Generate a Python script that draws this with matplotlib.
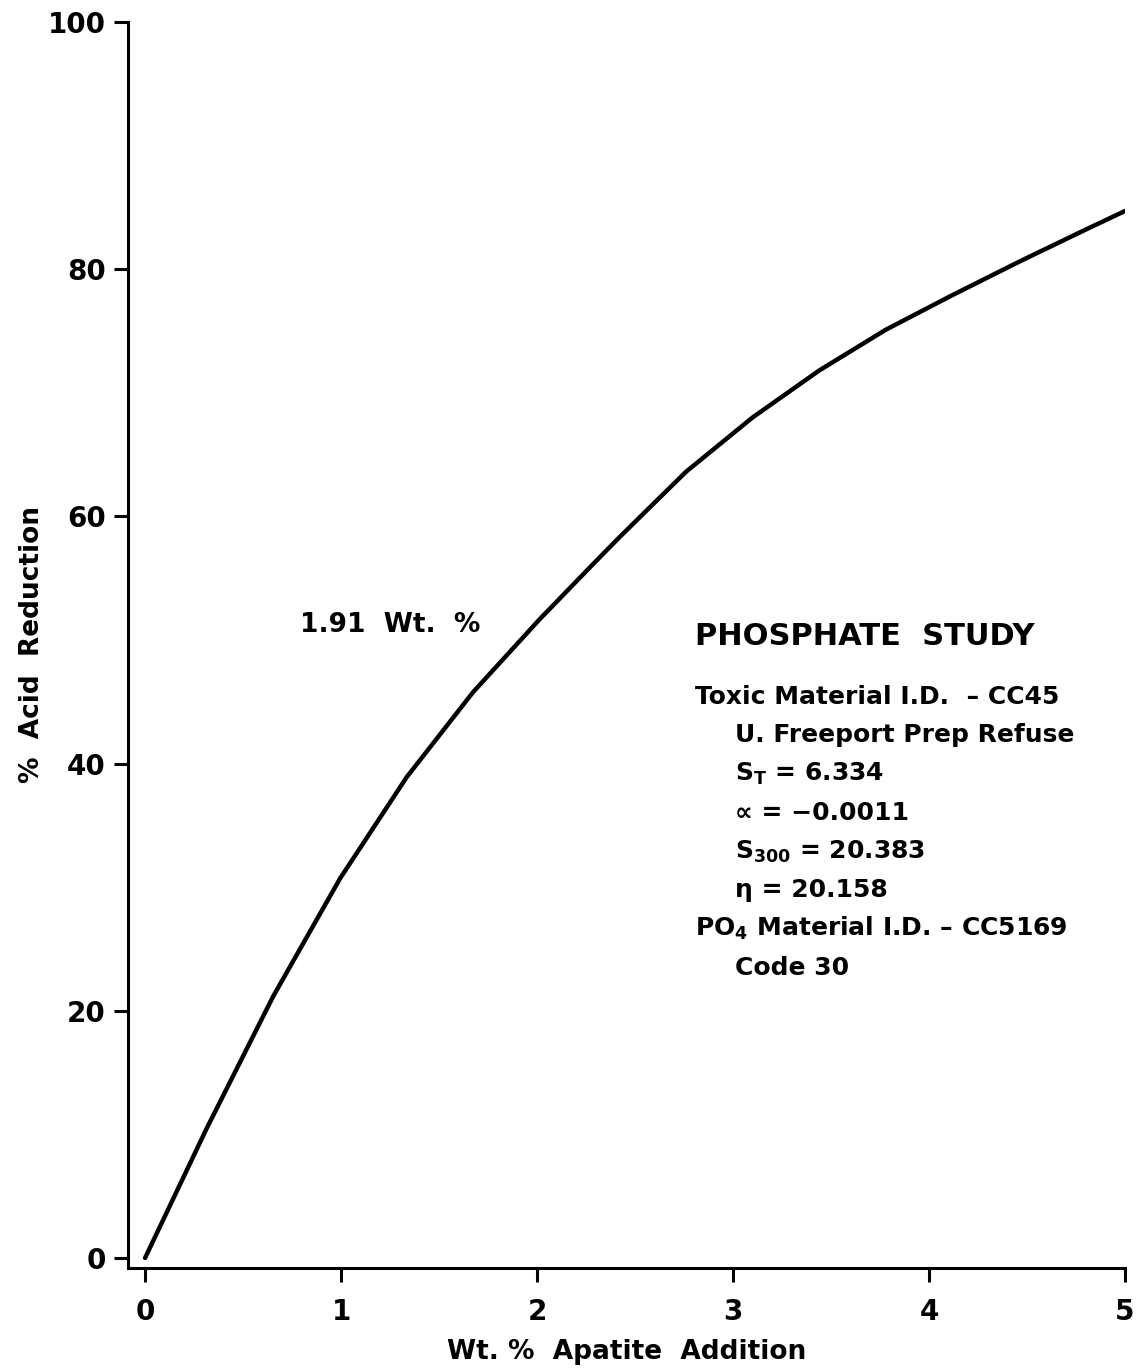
import numpy as np
import matplotlib
matplotlib.use('Agg')
import matplotlib.pyplot as plt

plt.rcParams['font.family'] = ['DejaVu Sans']
plt.rcParams['font.weight'] = 'bold'
plt.rcParams['axes.labelweight'] = 'bold'
plt.rcParams['mathtext.fontset'] = 'custom'
plt.rcParams['mathtext.rm'] = 'DejaVu Sans:bold'
plt.rcParams['mathtext.it'] = 'DejaVu Sans:bold'
plt.rcParams['mathtext.bf'] = 'DejaVu Sans:bold'

# curve
apatite = [0.0, 0.315, 0.655, 0.995, 1.335, 1.675, 2.015, 2.29, 2.42,
           2.76, 3.10, 3.44, 3.78, 4.12, 4.46, 4.80, 5.0]
acid_red = [0.0, 10.5, 21.2, 30.7, 38.9, 45.8, 51.7, 56.2, 58.3,
            63.6, 68.0, 71.8, 75.1, 77.9, 80.6, 83.2, 84.7]

x_ticks = [0, 1, 2, 3, 4, 5]
y_ticks = [0, 20, 40, 60, 80, 100]

info_lines = [
    ('Toxic Material I.D.  \u2013 CC45', 0),
    ('U. Freeport Prep Refuse', 1),
    (r'S$_\mathregular{T}$ = 6.334', 1),
    ('\u221d = \u22120.0011', 1),
    (r'S$_\mathregular{300}$ = 20.383', 1),
    ('\u03b7 = 20.158', 1),
    (r'PO$_\mathregular{4}$ Material I.D. ' + '\u2013 CC5169', 0),
    ('Code 30', 1),
]

fig = plt.figure(figsize=(11.4, 13.7), dpi=100)
ax = fig.add_axes([0.1123, 0.0745, 0.8745, 0.9095])

ax.plot(apatite, acid_red, color='black', lw=3.2, solid_capstyle='round',
        solid_joinstyle='round')

ax.set_xlim(-0.087, 5)
ax.set_ylim(-0.81, 100)
ax.set_xticks(x_ticks)
ax.set_yticks(y_ticks)
ax.tick_params(axis='both', direction='out', length=10, width=2.2, labelsize=20)
ax.tick_params(axis='x', pad=12)
ax.tick_params(axis='y', pad=6)
for s in ['top', 'right']:
    ax.spines[s].set_visible(False)
for s in ['left', 'bottom']:
    ax.spines[s].set_linewidth(2.2)

ax.set_xlabel('Wt. %  Apatite  Addition', fontsize=19, labelpad=9)
ax.set_ylabel('%  Acid  Reduction', fontsize=19, labelpad=2)

ax.text(0.79, 51.2, '1.91  Wt.  %', fontsize=19, va='center', ha='left')
ax.text(2.806, 50.3, 'PHOSPHATE  STUDY', fontsize=22, va='center', ha='left')
y0 = 45.4
for i, (txt, indent) in enumerate(info_lines):
    ax.text(2.806 + 0.204 * indent, y0 - i * 3.13, txt, fontsize=18,
            va='center', ha='left')

fig.savefig('out.png', dpi=100)
